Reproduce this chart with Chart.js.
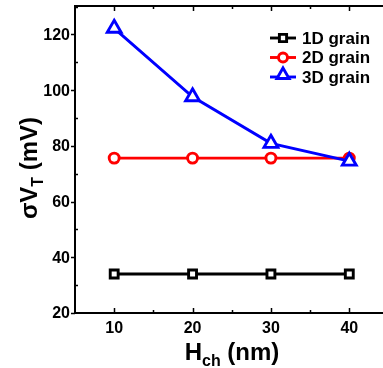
<!DOCTYPE html>
<html>
<head>
<meta charset="utf-8">
<script src="https://cdn.jsdelivr.net/npm/chart.js@4/dist/chart.umd.min.js"></script>
<style>
  html, body { margin: 0; padding: 0; background: #fff; overflow: hidden; }
  #wrap { width: 383px; height: 368px; position: relative; }
</style>
</head>
<body>
<div id="wrap"><canvas id="c" width="383" height="368"></canvas></div>
<script>
// ---- data ----
const hch = [10, 20, 30, 40];
const grain1D = [34, 34, 34, 34];
const grain2D = [75.6, 75.6, 75.6, 75.6];
const grain3D = [122.2, 97.6, 80.9, 74.5];
const seriesNames = ['1D grain', '2D grain', '3D grain'];
const xTicks = [10, 20, 30, 40];
const xMinorTicks = [15, 25, 35];
const yTicks = [20, 40, 60, 80, 100, 120];
const yMinorTicks = [30, 50, 70, 90, 110, 130];

const FONT = '"Liberation Sans", Arial, Helvetica, sans-serif';

function pts(ys) { return hch.map((x, i) => ({ x: x, y: ys[i] })); }

const styles = [
  { color: '#000000', point: 'rect', radius: 5.6 },
  { color: '#ff0000', point: 'circle', radius: 5 },
  { color: '#0000ff', point: 'triangle', radius: 8 }
];
const values = [grain1D, grain2D, grain3D];
const LW = 2.9;

const datasets = values.map((v, i) => ({
  label: seriesNames[i],
  data: pts(v),
  borderColor: styles[i].color,
  backgroundColor: '#ffffff',
  borderWidth: LW,
  pointStyle: styles[i].point,
  pointRadius: styles[i].radius,
  pointBorderWidth: LW,
  pointBackgroundColor: '#ffffff',
  pointBorderColor: styles[i].color,
  tension: 0,
  clip: false,
  order: 2 - i
}));

const axesPlugin = {
  id: 'axesPlugin',
  afterDraw(chart) {
    const ctx = chart.ctx;
    const a = chart.chartArea;
    const xs = chart.scales.x, ys = chart.scales.y;
    ctx.save();
    ctx.strokeStyle = '#000';
    ctx.lineWidth = 2;
    ctx.lineCap = 'butt';
    // frame: left, bottom, top
    ctx.beginPath();
    ctx.moveTo(a.left, a.top); ctx.lineTo(a.left, a.bottom + 1);
    ctx.moveTo(a.left - 1, a.bottom); ctx.lineTo(a.right, a.bottom);
    ctx.moveTo(a.left - 1, a.top); ctx.lineTo(a.right, a.top);
    ctx.stroke();
    ctx.lineWidth = 1.5;
    ctx.beginPath();
    xTicks.forEach(v => {
      const px = Math.round(xs.getPixelForValue(v)) + 0.5;
      ctx.moveTo(px, a.bottom); ctx.lineTo(px, a.bottom - 5);
      ctx.moveTo(px, a.top); ctx.lineTo(px, a.top + 5);
    });
    xMinorTicks.forEach(v => {
      const px = Math.round(xs.getPixelForValue(v)) + 0.5;
      ctx.moveTo(px, a.bottom); ctx.lineTo(px, a.bottom - 3);
      ctx.moveTo(px, a.top); ctx.lineTo(px, a.top + 3);
    });
    yTicks.forEach(v => {
      const py = Math.round(ys.getPixelForValue(v)) + 0.5;
      ctx.moveTo(a.left, py); ctx.lineTo(a.left - 4, py);
    });
    yMinorTicks.forEach(v => {
      const py = Math.round(ys.getPixelForValue(v)) + 0.5;
      ctx.moveTo(a.left, py); ctx.lineTo(a.left + 3, py);
    });
    ctx.stroke();

    // tick labels
    ctx.fillStyle = '#000';
    ctx.font = 'bold 16px ' + FONT;
    ctx.textAlign = 'right';
    ctx.textBaseline = 'middle';
    yTicks.forEach(v => {
      ctx.fillText(String(v), a.left - 5, ys.getPixelForValue(v) + 1);
    });
    ctx.textAlign = 'center';
    ctx.textBaseline = 'alphabetic';
    xTicks.forEach(v => {
      ctx.fillText(String(v), xs.getPixelForValue(v), a.bottom + 20);
    });

    // x title: H_ch (nm)
    const big = 'bold 24px ' + FONT, small = 'bold 16px ' + FONT;
    function measure(parts) {
      let w = 0;
      parts.forEach(p => { ctx.font = p.f; w += ctx.measureText(p.t).width; });
      return w;
    }
    function drawParts(parts, x0, y0) {
      let x = x0;
      ctx.textAlign = 'left';
      parts.forEach(p => {
        ctx.font = p.f;
        ctx.fillText(p.t, x, y0 + (p.dy || 0));
        x += ctx.measureText(p.t).width;
      });
    }
    const xParts = [{ t: 'H', f: big }, { t: 'ch', f: small, dy: 6 }, { t: ' (nm)', f: big }];
    const xw = measure(xParts);
    drawParts(xParts, 232 - xw / 2, 360);

    // y title: σV_T (mV)
    const yParts = [{ t: 'σ', f: big }, { t: 'V', f: big }, { t: 'T', f: small, dy: 6 }, { t: ' (mV)', f: big }];
    const yw = measure(yParts);
    ctx.save();
    ctx.translate(37, 168);
    ctx.rotate(-Math.PI / 2);
    drawParts(yParts, -yw / 2, 0);
    ctx.restore();

    // legend
    const lx0 = 270, lx1 = 296, tx = 302;
    const rowsY = [38, 57.5, 77];
    chart.data.datasets.forEach((ds, i) => {
      const y = rowsY[i];
      ctx.strokeStyle = ds.borderColor;
      ctx.lineWidth = LW;
      ctx.beginPath();
      ctx.moveTo(lx0, y); ctx.lineTo(lx1, y);
      ctx.stroke();
      ctx.fillStyle = '#fff';
      Chart.helpers.drawPoint(ctx, {
        pointStyle: ds.pointStyle,
        radius: ds.pointStyle === 'triangle' ? 7 : ds.pointRadius - 0.5,
        rotation: 0,
        borderWidth: LW
      }, (lx0 + lx1) / 2, ds.pointStyle === 'triangle' ? y - 2 : y);
      ctx.fillStyle = '#000';
      ctx.font = 'bold 17px ' + FONT;
      ctx.textAlign = 'left';
      ctx.textBaseline = 'middle';
      ctx.fillText(ds.label, tx, y + 1);
    });
    ctx.restore();
  }
};

new Chart(document.getElementById('c'), {
  type: 'line',
  data: { datasets: datasets },
  options: {
    responsive: false,
    animation: false,
    devicePixelRatio: 1,
    layout: { autoPadding: false, padding: { left: 75, top: 6, right: 0, bottom: 55 } },
    plugins: { legend: { display: false }, tooltip: { enabled: false } },
    scales: {
      x: { type: 'linear', min: 5, max: 44.3, display: false },
      y: { type: 'linear', min: 20, max: 130.2, display: false }
    }
  },
  plugins: [axesPlugin]
});
</script>
</body>
</html>
